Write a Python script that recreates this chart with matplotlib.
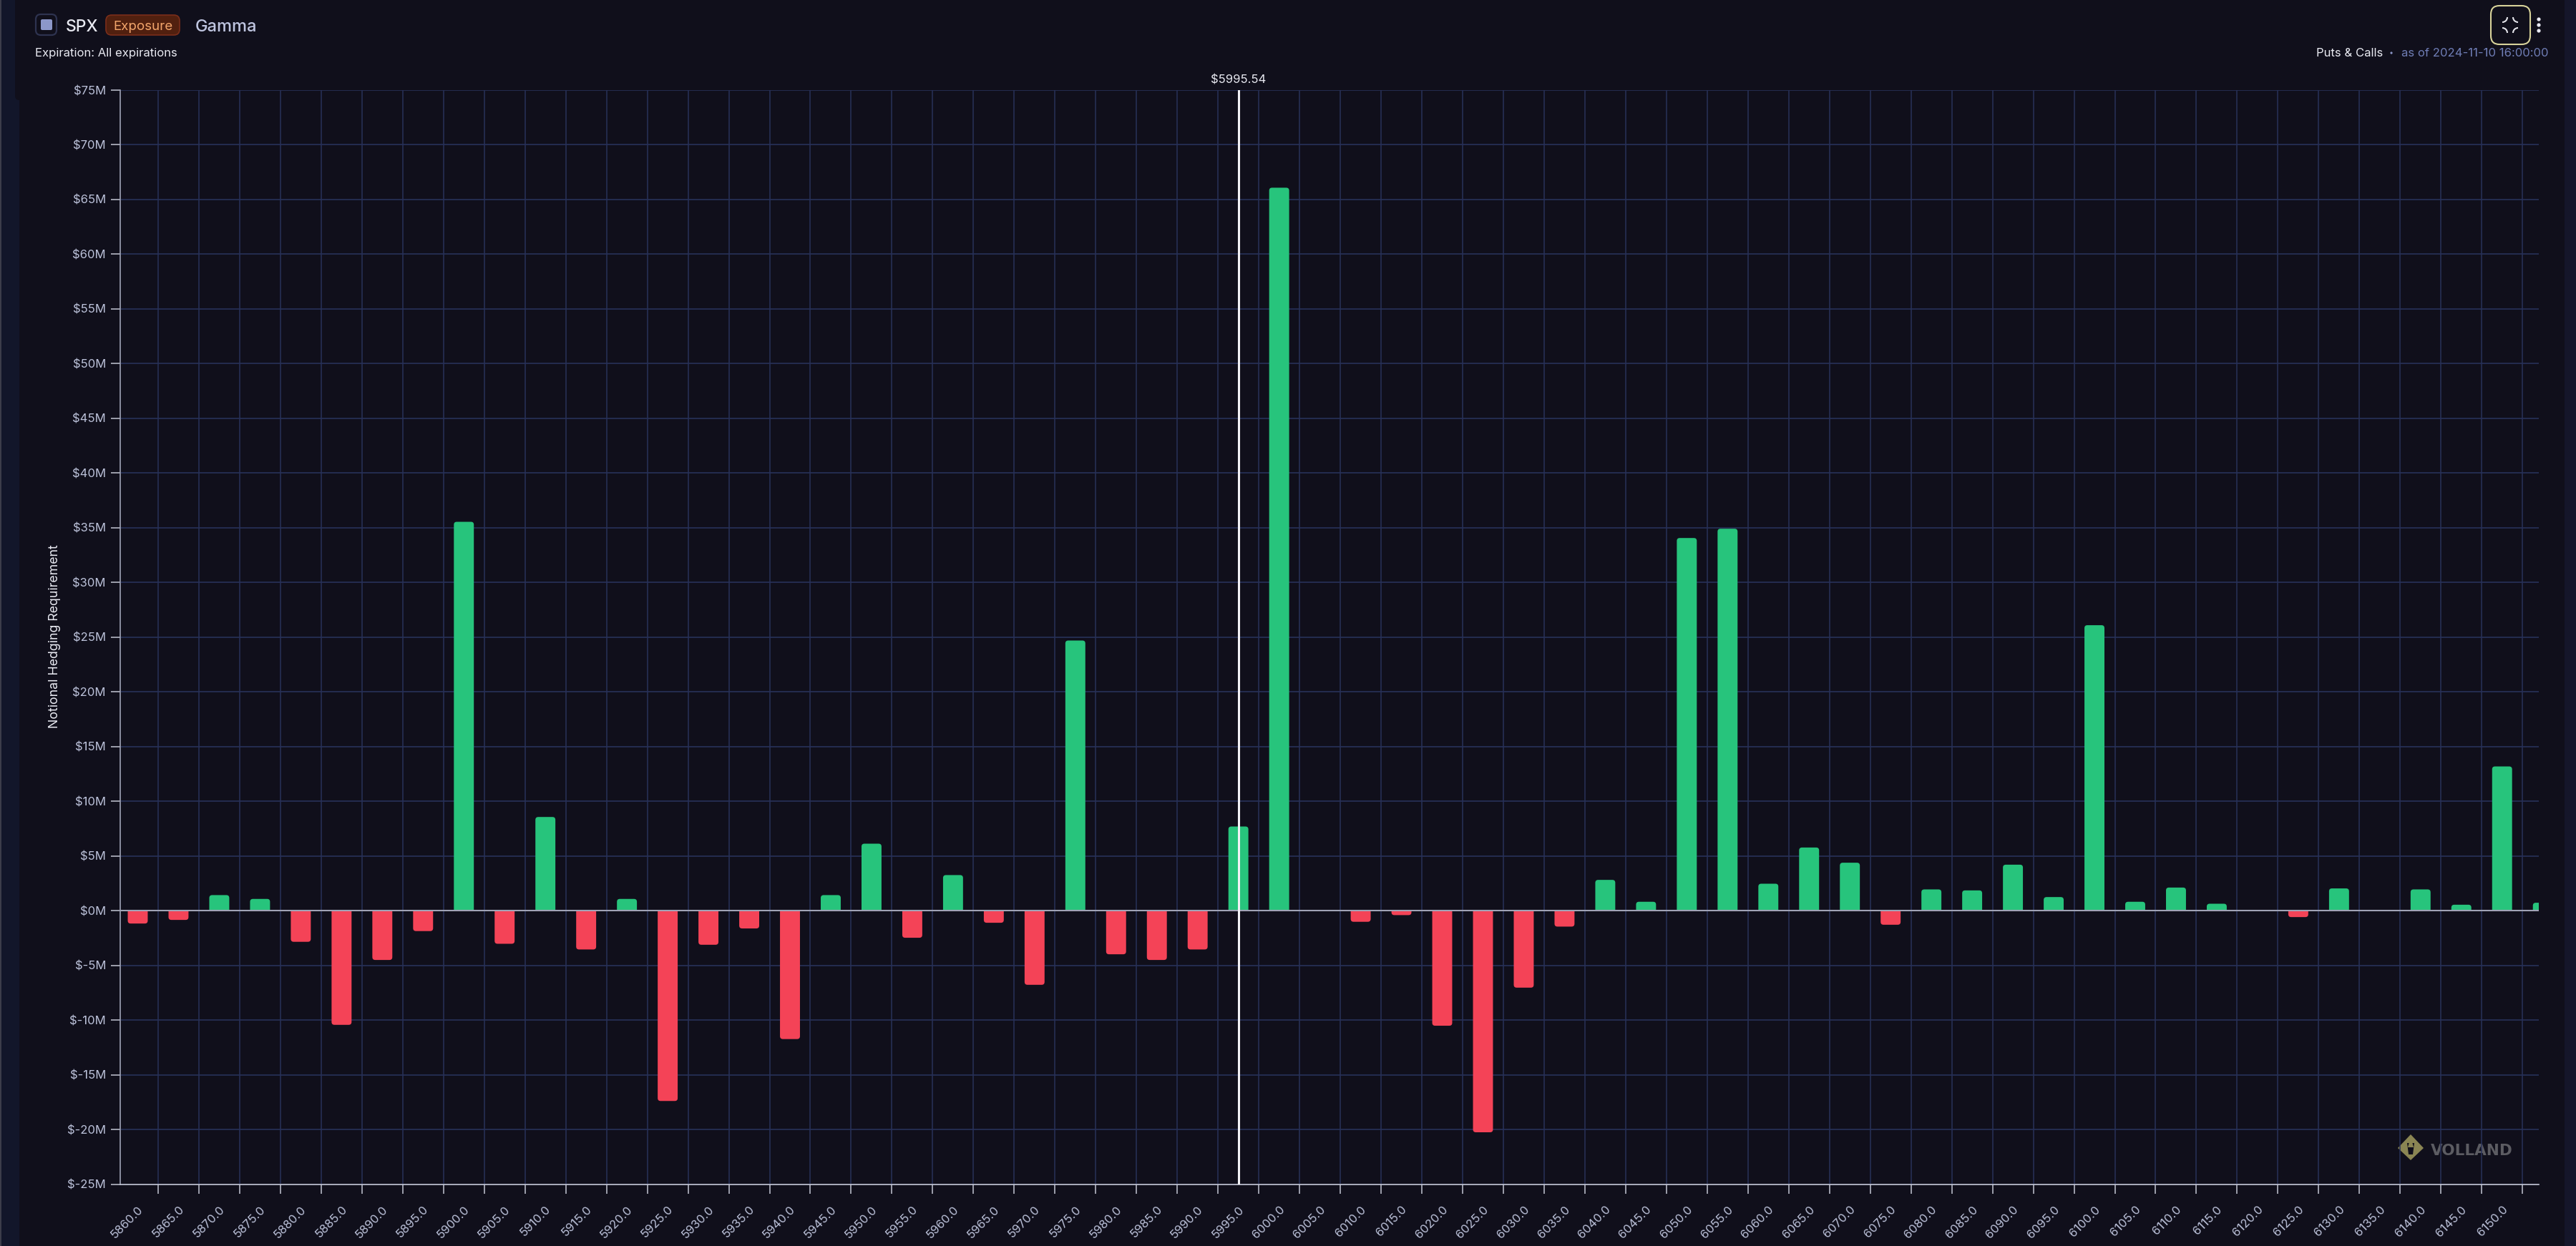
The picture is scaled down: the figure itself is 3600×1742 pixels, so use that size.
import matplotlib
matplotlib.use('Agg')
import matplotlib.pyplot as plt
from matplotlib.patches import Rectangle, FancyBboxPatch, PathPatch, Polygon, Circle, Arc
from matplotlib.path import Path

strikes = [5860 + 5 * i for i in range(60)]
gamma = [-1.18, -0.85, 1.42, 1.07, -2.85, -10.44, -4.51, -1.87, 35.54, -3.03,
         8.56, -3.55, 1.07, -17.4, -3.12, -1.63, -11.74, 1.42, 6.12, -2.48,
         3.25, -1.11, -6.78, 24.69, -3.99, -4.51, -3.55, 7.69, 66.08, -0.05,
         -1.02, -0.41, -10.52, -20.26, -7.04, -1.46, 2.81, 0.81, 34.06, 34.91,
         2.46, 5.77, 4.38, -1.29, 1.94, 1.85, 4.2, 1.24, 26.09, 0.81,
         2.11, 0.63, -0.05, -0.59, 2.03, 0, 1.94, 0.54, 13.18, 0.72]
yticks = list(range(-25, 80, 5))
spot_strike = 5995
spot_label = '$5995.54'

BG = '#100f1b'
GREEN = '#27c47c'
RED = '#f44357'
GRID = '#283159'
AXIS = '#a0a3b6'
TICK = '#c3c6d4'
LABEL = '#bcc2da'
WHITE = '#e9eaf2'

plt.rcParams['font.family'] = ['Inter', 'DejaVu Sans']
W, H = 3600, 1742
fig = plt.figure(figsize=(W / 100, H / 100), dpi=100, facecolor=BG)

# page layer in pixel coordinates (header, side strips, watermark)
bg = fig.add_axes([0, 0, 1, 1], zorder=0)
bg.set_xlim(0, W)
bg.set_ylim(H, 0)
bg.axis('off')
bg.add_patch(Rectangle((0, 0), 2, H, color='#3c3d4a', lw=0))
bg.add_patch(Rectangle((2, 0), 25, H, color='#12162a', lw=0))
bg.add_patch(Rectangle((3584, 0), 16, H, color='#15162a', lw=0))
bg.add_patch(FancyBboxPatch((27, -30), 3557, H + 60, boxstyle='round,pad=0,rounding_size=14',
                            fc=BG, ec='none'))
bg.add_patch(FancyBboxPatch((21, -30), 20, 170, boxstyle='round,pad=0,rounding_size=6',
                            fc=BG, ec='none'))

bg.add_patch(FancyBboxPatch((50, 20), 29, 29, boxstyle='round,pad=0,rounding_size=7',
                            fc='none', ec='#2e3350', lw=1.6))
bg.add_patch(FancyBboxPatch((57, 27), 16, 15, boxstyle='round,pad=0,rounding_size=2',
                            fc='#8c97c9', ec='none'))
bg.text(92, 35, 'SPX', color=WHITE, fontsize=16.5, fontweight='medium', va='center_baseline')
bg.add_patch(FancyBboxPatch((148, 21), 103, 28, boxstyle='round,pad=0,rounding_size=8',
                            fc='#51200f', ec='#7a2e1a', lw=1.2))
bg.text(199.5, 35.5, 'Exposure', color='#f2a56b', fontsize=13.5, ha='center', va='center_baseline')
bg.text(273, 35, 'Gamma', color='#bfc5e0', fontsize=17, fontweight='medium', va='center_baseline')
bg.text(49, 73, 'Expiration: All expirations', color=WHITE, fontsize=12, va='center_baseline')

bg.text(3330, 73, 'Puts & Calls', color=WHITE, fontsize=12, ha='right', va='center_baseline')
bg.add_patch(Circle((3342, 74), 1.6, fc='#8c97c9', ec='none'))
bg.text(3561, 73, 'as of 2024-11-10 16:00:00', color='#6f7db5', fontsize=12, ha='right',
        va='center_baseline')
bg.add_patch(FancyBboxPatch((3481, 8), 55, 54, boxstyle='round,pad=0,rounding_size=12',
                            fc='none', ec='#d8d39a', lw=1.5))
for cx, cy, start in [(3497, 24, 0), (3519, 24, 90), (3497, 46, 270), (3519, 46, 180)]:
    bg.add_patch(Arc((cx, cy), 14, 14, theta1=start, theta2=start + 90, color='#e4e4ea', lw=1.5))
for cy in [27, 35, 43]:
    bg.add_patch(Circle((3548, cy), 2.6, fc=WHITE, ec='none'))

# watermark
bg.add_patch(Polygon([(3369, 1586), (3387, 1605), (3369, 1622), (3351, 1605)], fc='#8a8553', ec='none'))
bg.add_patch(Polygon([(3364, 1598), (3374, 1598), (3372, 1614), (3366, 1614)], fc=BG, ec='none'))
bg.add_patch(Polygon([(3369, 1589), (3373, 1604), (3365, 1604)], fc='#8a8553', ec='none'))
bg.text(3397, 1607, 'VOLLAND', color='#5c5c62', fontsize=15.5, fontweight='bold',
        family='DejaVu Sans', va='center_baseline', zorder=5)

# chart
left, right, top, bottom = 168, 3548, 126, 1655.5
ax = fig.add_axes([left / W, 1 - bottom / H, (right - left) / W, (bottom - top) / H],
                  zorder=1, facecolor='none')
ax.set_xlim(-0.43, 58.9)
ax.set_ylim(-25, 75)

xpos = list(range(len(strikes)))
colors = [GREEN if v > 0 else RED for v in gamma]
bars = ax.bar(xpos, gamma, width=0.49, color=colors, zorder=3)

# swap square bar tops for rounded ones, 4px radius on screen
rx = 4 * (58.9 + 0.43) / (right - left)
ry = 4 * 100 / (bottom - top)
for bar, c in zip(bars, colors):
    x0, w, h = bar.get_x(), bar.get_width(), bar.get_height()
    bar.set_visible(False)
    if h == 0:
        continue
    r = min(ry, abs(h))
    end = h - r if h > 0 else h + r
    verts = [(x0, 0), (x0, end), (x0, h), (x0 + rx, h), (x0 + w - rx, h), (x0 + w, h),
             (x0 + w, end), (x0 + w, 0), (x0, 0)]
    codes = [Path.MOVETO, Path.LINETO, Path.CURVE3, Path.CURVE3, Path.LINETO, Path.CURVE3,
             Path.CURVE3, Path.LINETO, Path.CLOSEPOLY]
    ax.add_patch(PathPatch(Path(verts, codes), fc=c, ec='none', zorder=3))

ax.set_yticks(yticks)
ax.set_yticklabels([f'${v}M' for v in yticks])
ax.set_xticks(xpos[:59])
ax.set_xticklabels([f'{s:.1f}' for s in strikes[:59]], rotation=45, ha='right', va='top',
                   rotation_mode='anchor')
ax.set_xticks([i + 0.5 for i in xpos[:59]], minor=True)

ax.tick_params(axis='x', which='major', length=0, pad=20, labelsize=12, labelcolor=LABEL)
ax.tick_params(axis='x', which='minor', length=9.4, width=1.1, color=TICK)
ax.tick_params(axis='y', length=9.4, width=1.1, color=TICK, pad=5, labelsize=12, labelcolor=LABEL)
ax.grid(True, axis='y', which='major', color=GRID, lw=1.2, zorder=1)
ax.grid(True, axis='x', which='minor', color=GRID, lw=1.1, zorder=1)
ax.grid(False, axis='x', which='major')
ax.set_axisbelow(True)

for s in ['top', 'right']:
    ax.spines[s].set_visible(False)
ax.spines['left'].set_color(AXIS)
ax.spines['left'].set_linewidth(1.2)
ax.spines['bottom'].set_color(TICK)
ax.spines['bottom'].set_linewidth(1.2)

ax.axhline(0, color=AXIS, lw=1.5, zorder=4)
spot_x = strikes.index(spot_strike)
ax.axvline(spot_x, color='#f2f2f6', lw=2.2, zorder=5)
ax.text(spot_x, 75.4, spot_label, color=WHITE, fontsize=12, ha='center', va='bottom')

ax.set_ylabel('Notional Hedging Requirement', color=WHITE, fontsize=12.8)
ax.yaxis.set_label_coords((85 - left) / (right - left), (bottom - 890) / (bottom - top))

fig.savefig('out.png', dpi=100, facecolor=BG)
